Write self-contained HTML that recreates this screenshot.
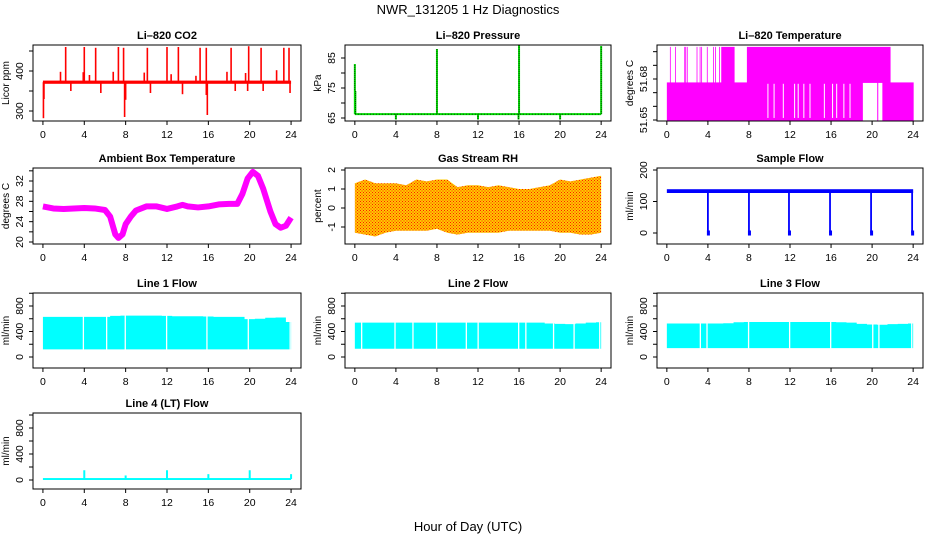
<!DOCTYPE html>
<html><head><meta charset="utf-8"><style>
body{margin:0;background:#fff}
svg{display:block;font-family:"Liberation Sans",sans-serif}
</style></head><body>
<svg id="chart" width="936" height="540" viewBox="0 0 936 540" xmlns="http://www.w3.org/2000/svg">
<defs>
<pattern id="rhpat" width="3" height="3" patternUnits="userSpaceOnUse">
<rect width="3" height="3" fill="#ffc800"/><rect width="1" height="1" fill="#ff1a00"/><rect x="1.5" y="1.5" width="1" height="1" fill="#ff1a00"/>
</pattern>
</defs>
<text x="468" y="14" text-anchor="middle" font-size="13">NWR_131205  1 Hz Diagnostics</text>
<text x="468" y="531" text-anchor="middle" font-size="13">Hour of Day (UTC)</text>
</svg>
<script>
// ---- data ----
const xTicks=[0,4,8,12,16,20,24];
const co2Base=372;
const co2Hours=[2.2,4.0,5.1,7.3,7.8,10.1,12.0,13.1,15.2,15.8,18.2,19.9,21.1,23.3,23.8,1.7,3.9,4.5,6.8,9.8,12.4,14.8,17.8,19.6,22.6,0.05,7.9,8.0,15.9,15.8,2.7,5.6,10.4,13.5,18.6,19.8,21.3,23.9,0.1];
const co2Vals=[460,460,458,460,458,458,460,460,458,458,458,462,458,458,458,398,397,390,398,396,392,388,398,395,402,282,285,328,290,340,350,345,345,342,350,350,350,345,330];
const pressBase=66.3;
const pressHours=[0,0.05,8,16,24,15.95,4,12,20];
const pressVals=[83,74,88,90,89,64.5,64.5,64.5,64.5];
const tempStart=[0,21.0,20.5,7.8,5.3,0.3,0.8,1.7,1.8,1.95,2.9,3.2,3.35,3.9,4.5,4.7,5.1];
const tempEnd=[19.1,24.05,20.6,21.8,6.6,0.36,0.86,1.76,1.86,2.01,2.96,3.26,3.41,3.96,4.56,4.76,5.16];
const tempLo=[51.6497,51.6497,51.6497,51.6775,51.6775,51.6775,51.6775,51.6775,51.6775,51.6775,51.6775,51.6775,51.6775,51.6775,51.6775,51.6775,51.6775];
const tempHi=[51.6775,51.6775,51.6775,51.7035,51.7035,51.7035,51.7035,51.7035,51.7035,51.7035,51.7035,51.7035,51.7035,51.7035,51.7035,51.7035,51.7035];
const tempGapHours=[9.8,10.4,11.3,12.4,12.75,13.3,13.9,15.3,16.1,16.5,17.2,17.8];
const ambHours=[0,1,2,3,4,5,6,6.5,7,7.3,7.7,8,8.5,9,10,11,12,13,13.5,14,15,16,17,18,18.8,19.3,19.8,20.3,20.8,21.3,22,22.5,23,23.5,24];
const ambVals=[27,26.6,26.5,26.6,26.7,26.6,26.3,25,21.5,20.8,21.5,23.5,25,26.2,27,27,26.5,27,27.3,27,26.8,27,27.4,27.5,27.5,29.5,32.5,33.8,33,30.5,26,23.5,22.8,23.2,24.8];
const rhMax=[1.3,1.5,1.3,1.3,1.3,1.2,1.5,1.4,1.5,1.5,1.1,1.2,1.2,1.1,1.2,1.1,1.0,1.0,1.1,1.2,1.5,1.4,1.5,1.6,1.7];
const rhMin=[-1.3,-1.4,-1.5,-1.3,-1.2,-1.2,-1.2,-1.2,-1.1,-1.3,-1.4,-1.3,-1.3,-1.3,-1.3,-1.2,-1.2,-1.2,-1.2,-1.2,-1.3,-1.3,-1.4,-1.4,-1.3];
const sampleBase=133;
const sampleDropHours=[4,8,11.9,15.9,19.9,23.9];
const line1Top=[630,630,630,630,630,630,630,645,650,650,650,650,645,640,640,640,635,630,630,630,595,600,615,620,550];
const line1Gaps=[3.85,6.1,7.9,11.9,15.8,19.8,23.85];
const line2Top=[540,540,540,540,540,540,540,540,540,540,540,540,540,540,540,540,540,540,540,525,520,515,525,540,545];
const line2Gaps=[0.6,3.85,5.6,7.9,10.8,11.95,15.9,16.6,19.3,21.3,23.8];
const line3Top=[525,525,525,525,525,525,530,545,550,550,550,550,550,550,550,550,550,545,540,520,510,505,515,520,525];
const line3Gaps=[3.2,3.85,7.9,11.9,15.9,20.0,20.6,23.8];
const line4Base=15;
const line4Hours=[4,8,12,16,20,24];
const line4Vals=[150,70,150,90,150,90];

// ---- layout ----
const NS='http://www.w3.org/2000/svg';
const svg=document.getElementById('chart');
const cols=[[33,301],[345,611],[657,923]];
const rows=[[45,121],[168,244],[293,368],[413,489]];
function add(tag,name,parent,attrs){
  const el=document.createElementNS(NS,tag);
  
  
  for(const k in attrs) el.setAttribute(k,attrs[k]);
  (parent||svg).appendChild(el);
  return el;
}
function panel(o){
  const [L,R]=cols[o.col],[T,B]=rows[o.row];
  const g=add('g',o.name,svg,{});
  const x=h=>L+(h+0.96)/25.92*(R-L);
  const y=v=>o.pA+(v-o.yA)*(o.pB-o.pA)/(o.yB-o.yA);
  const clipId='c'+o.name;
  const cp=add('clipPath',o.name+'-clip',g,{id:clipId});
  add('rect',o.name+'-clip-rect',cp,{x:L,y:T,width:R-L,height:B-T});
  const plot=add('g',o.name+'-plot-area',g,{'clip-path':'url(#'+clipId+')'});
  add('text',o.name+'-title',g,{x:(L+R)/2,y:T-6,'text-anchor':'middle','font-size':11,'font-weight':'bold'}).textContent=o.title;
  const xa=add('g',o.name+'-x-axis',g,{});
  add('line',o.name+'-x-axis-line',xa,{x1:x(0),x2:x(24),y1:B,y2:B,stroke:'#000'});
  xTicks.forEach(t=>{
    add('line',o.name+'-x-tick',xa,{x1:x(t),x2:x(t),y1:B,y2:B+4,stroke:'#000'});
    add('text',o.name+'-x-tick-label',xa,{x:x(t),y:B+17,'text-anchor':'middle','font-size':10.5}).textContent=t;
  });
  const ya=add('g',o.name+'-y-axis',g,{});
  o.yticks.forEach(t=>{
    add('line',o.name+'-y-tick',ya,{x1:L-4,x2:L,y1:y(t),y2:y(t),stroke:'#000'});
  });
  o.ylabels.forEach(t=>{
    const tx=L-10,ty=y(t);
    add('text',o.name+'-y-tick-label',ya,{x:tx,y:ty,'text-anchor':'middle','font-size':10.5,transform:`rotate(-90 ${tx} ${ty})`}).textContent=t;
  });
  const lx=L-24,ly=(T+B)/2;
  add('text',o.name+'-y-axis-title',ya,{x:lx,y:ly,'text-anchor':'middle','font-size':10,transform:`rotate(-90 ${lx} ${ly})`}).textContent=o.ylab;
  o.draw(plot,x,y);
  add('rect',o.name+'-frame',g,{x:L,y:T,width:R-L,height:B-T,fill:'none',stroke:'#000'});
}
function bandFlow(p,x,y,tops,gaps,bottom,nm){
  let d='M'+x(0)+','+y(bottom);
  tops.forEach((v,i)=>{const h=Math.min(i,24);d+=' L'+x(Math.max(h-0.5,0))+','+y(v)+' L'+x(Math.min(h+0.5,24))+','+y(v);});
  d+=' L'+x(24)+','+y(bottom)+'Z';
  add('path',nm+'-band',p,{d:d,fill:'#00ffff'});
  gaps.forEach(h=>add('rect',nm+'-gap',p,{x:x(h),y:y(700),width:1.3,height:y(bottom)-y(700)+1,fill:'#fff'}));
}
const flowTicks=[0,200,400,600,800,1000];

panel({name:'co2-panel',col:0,row:0,title:'Li\u2013820 CO2',ylab:'Licor ppm',yA:300,pA:111,yB:400,pB:71,yticks:[300,350,400,450],ylabels:[300,400],
 draw:(p,x,y)=>{
  add('rect','co2-baseline',p,{x:x(0),y:y(co2Base+4),width:x(24)-x(0),height:y(co2Base-4)-y(co2Base+4),fill:'#ff0000'});
  co2Hours.forEach((h,i)=>add('line','co2-spike',p,{x1:x(h),x2:x(h),y1:y(co2Base),y2:y(co2Vals[i]),stroke:'#ff0000','stroke-width':1.6}));
 }});
panel({name:'pressure-panel',col:1,row:0,title:'Li\u2013820 Pressure',ylab:'kPa',yA:65,pA:118,yB:85,pB:58,yticks:[65,70,75,80,85],ylabels:[65,75,85],
 draw:(p,x,y)=>{
  add('line','pressure-baseline',p,{x1:x(0),x2:x(24),y1:y(pressBase),y2:y(pressBase),stroke:'#00dd00','stroke-width':2});
  add('line','pressure-baseline-dots',p,{x1:x(0),x2:x(24),y1:y(pressBase),y2:y(pressBase),stroke:'#000','stroke-width':0.7,'stroke-dasharray':'1 2'});
  pressHours.forEach((h,i)=>{
    add('line','pressure-spike',p,{x1:x(h),x2:x(h),y1:y(pressBase),y2:y(pressVals[i]),stroke:'#00dd00','stroke-width':2});
    add('line','pressure-spike-dots',p,{x1:x(h),x2:x(h),y1:y(pressBase),y2:y(pressVals[i]),stroke:'#000','stroke-width':0.7,'stroke-dasharray':'1 1'});
  });
 }});
panel({name:'temperature-panel',col:2,row:0,title:'Li\u2013820 Temperature',ylab:'degrees C',yA:51.65,pA:120,yB:51.68,pB:79,yticks:[51.65,51.66,51.67,51.68,51.69,51.70],ylabels:['51.65','51.68'],
 draw:(p,x,y)=>{
  tempStart.forEach((s,i)=>add('rect','temperature-band',p,{x:x(s),y:y(tempHi[i]),width:Math.max(x(tempEnd[i])-x(s),0.8),height:y(tempLo[i])-y(tempHi[i])+0.5,fill:'#ff00ff'}));
  tempGapHours.forEach(h=>add('rect','temperature-gap',p,{x:x(h),y:y(51.6765),width:1,height:y(51.6515)-y(51.6765),fill:'#fff'}));
 }});
panel({name:'ambient-temp-panel',col:0,row:1,title:'Ambient Box Temperature',ylab:'degrees C',yA:20,pA:242,yB:32,pB:181,yticks:[20,22,24,26,28,30,32,34],ylabels:[20,24,28,32],
 draw:(p,x,y)=>{
  add('polyline','ambient-temp-line',p,{points:ambHours.map((h,i)=>x(h)+','+y(ambVals[i])).join(' '),fill:'none',stroke:'#ff00ff','stroke-width':6,'stroke-linejoin':'round'});
 }});
panel({name:'rh-panel',col:1,row:1,title:'Gas Stream RH',ylab:'percent',yA:2,pA:170,yB:-1,pB:227,yticks:[-1,0,1,2],ylabels:[-1,0,1,2],
 draw:(p,x,y)=>{
  const up=rhMax.map((v,i)=>x(i)+','+y(v)), dn=rhMin.map((v,i)=>x(i)+','+y(v)).reverse();
  add('polygon','rh-band',p,{points:up.concat(dn).join(' '),fill:'url(#rhpat)'});
 }});
panel({name:'sample-flow-panel',col:2,row:1,title:'Sample Flow',ylab:'ml/min',yA:0,pA:233,yB:200,pB:170,yticks:[0,100,200],ylabels:[0,100,200],
 draw:(p,x,y)=>{
  add('rect','sample-flow-baseline',p,{x:x(0),y:y(sampleBase+6),width:x(24)-x(0),height:y(sampleBase-6)-y(sampleBase+6),fill:'#0000ff'});
  sampleDropHours.forEach(h=>{
    add('line','sample-flow-drop',p,{x1:x(h),x2:x(h),y1:y(sampleBase),y2:y(0),stroke:'#0000ff','stroke-width':1.8});
    add('rect','sample-flow-drop-end',p,{x:x(h)-1,y:y(8),width:3,height:y(-8)-y(8),fill:'#0000ff'});
  });
 }});
panel({name:'line1-flow-panel',col:0,row:2,title:'Line 1 Flow',ylab:'ml/min',yA:0,pA:357,yB:800,pB:306,yticks:flowTicks,ylabels:[0,400,800],
 draw:(p,x,y)=>bandFlow(p,x,y,line1Top,line1Gaps,120,'line1')});
panel({name:'line2-flow-panel',col:1,row:2,title:'Line 2 Flow',ylab:'ml/min',yA:0,pA:357,yB:800,pB:306,yticks:flowTicks,ylabels:[0,400,800],
 draw:(p,x,y)=>bandFlow(p,x,y,line2Top,line2Gaps,130,'line2')});
panel({name:'line3-flow-panel',col:2,row:2,title:'Line 3 Flow',ylab:'ml/min',yA:0,pA:357,yB:800,pB:306,yticks:flowTicks,ylabels:[0,400,800],
 draw:(p,x,y)=>bandFlow(p,x,y,line3Top,line3Gaps,140,'line3')});
panel({name:'line4-flow-panel',col:0,row:3,title:'Line 4 (LT) Flow',ylab:'ml/min',yA:0,pA:480,yB:800,pB:428,yticks:flowTicks,ylabels:[0,400,800],
 draw:(p,x,y)=>{
  add('rect','line4-baseline',p,{x:x(0),y:y(line4Base+15),width:x(24)-x(0),height:y(line4Base-15)-y(line4Base+15),fill:'#00ffff'});
  line4Hours.forEach((h,i)=>add('line','line4-spike',p,{x1:x(h),x2:x(h),y1:y(line4Base),y2:y(line4Vals[i]),stroke:'#00ffff','stroke-width':2}));
 }});
</script>
</body></html>
